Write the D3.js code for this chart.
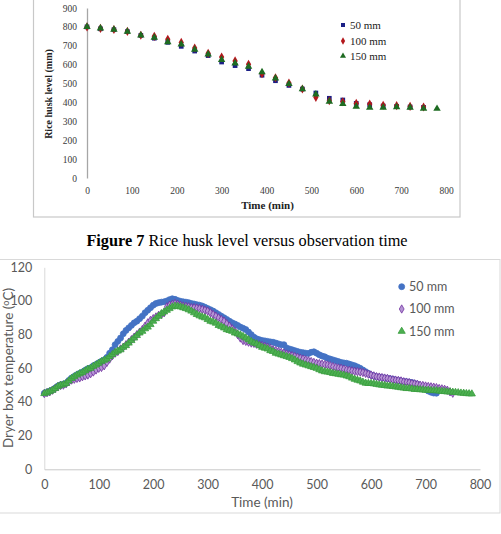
<!DOCTYPE html>
<html><head><meta charset="utf-8">
<script src="https://cdn.jsdelivr.net/npm/d3@7/dist/d3.min.js"></script>
<style>body{margin:0;background:#fff;} svg{display:block;}</style>
</head><body>
<svg id="c" width="501" height="534"></svg>
<script>
// ---------- Figure 7 (top, partially visible) ----------
const topSeriesNames = ["50 mm", "100 mm", "150 mm"];
const topTime = [0,30,60,90,120,150,180,210,240,270,300,330,360,390,420,450,480,510,540,570,600,630,660,690,720,750,780];
const top50  = [800,790,785,775,755,740,718,697,672,648,614,595,579,544,515,490,471,450,422,413,395,388,381,379,376,374];
const top100 = [800,792,786,776,756,750,734,718,688,660,640,620,602,552,531,503,471,427,409,404,395,392,385,383,379,376];
const top150 = [800,792,786,775,755,743,720,708,680,655,626,607,590,561,528,498,471,443,405,392,378,373,373,376,373,368,367];
const topYTicks = [0,100,200,300,400,500,600,700,800,900];
const topXTicks = [0,100,200,300,400,500,600,700,800];

// ---------- Dryer box temperature (bottom) ----------
const bottomSeriesNames = ["50 mm", "100 mm", "150 mm"];
const sampleStepMin = 5; // observation every 5 min
const temp50 = [45.2,45.8,46.5,47.2,48.3,49.5,50.2,50.5,51.2,52.8,54.2,55.2,56.2,57.0,57.8,58.8,59.8,60.3,61.5,62.3,
 63.3,64.2,65.0,66.5,69.0,71.0,74.0,76.0,78.0,80.5,82.5,84.0,85.5,87.0,88.0,89.5,91.0,93.0,94.5,96.0,
 97.5,98.5,99.0,99.3,99.5,100.0,100.8,101.3,101.0,100.3,99.8,99.5,99.3,99.0,98.5,98.2,97.8,97.5,97.0,96.3,
 95.5,94.8,94.0,93.0,92.0,91.0,90.0,89.0,88.0,87.0,86.3,85.5,84.5,83.8,83.0,81.5,80.0,78.5,77.5,77.0,
 76.5,76.3,76.0,75.7,75.5,75.0,74.5,74.0,74.0,72.0,71.5,71.0,70.5,70.0,69.5,69.3,69.0,68.8,69.5,69.8,
 69.0,68.0,67.3,66.8,66.0,65.5,65.0,64.5,64.0,63.5,63.2,63.0,62.5,62.0,61.5,60.8,60.0,59.0,58.0,57.0,
 56.0,55.5,55.0,54.8,54.5,54.2,54.0,53.8,53.5,53.0,52.8,52.5,52.2,52.0,51.8,51.5,51.0,50.5,49.5,48.5,
 47.5,46.5,45.8,45.3,45.2];
const temp100 = [45.0,45.5,46.0,47.0,48.0,49.0,49.8,50.0,50.8,52.0,53.0,53.5,54.0,54.3,55.0,55.5,56.0,56.8,57.8,59.0,
 60.0,60.5,61.5,63.5,65.5,67.5,69.0,70.0,71.5,72.5,74.0,75.5,77.0,78.5,80.0,81.5,83.0,85.0,87.0,88.5,
 89.5,90.5,91.5,92.0,93.0,96.5,97.5,98.0,98.5,98.0,97.5,97.0,96.8,96.5,96.0,96.0,95.8,95.5,95.0,94.5,
 94.0,93.0,92.0,91.0,90.0,89.0,88.0,86.5,85.0,83.5,82.0,80.0,78.0,76.5,76.0,75.5,75.0,74.8,74.3,74.0,
 73.5,73.0,72.5,71.8,71.0,70.5,70.0,69.5,69.0,68.5,68.0,67.5,67.0,66.5,66.0,65.5,65.0,64.5,64.0,63.5,
 63.0,62.8,62.5,62.2,62.0,61.5,61.0,60.5,60.2,60.0,59.5,59.0,58.8,58.5,58.2,58.0,57.8,57.5,57.0,56.5,
 56.0,55.5,55.0,54.8,54.5,54.2,54.0,53.5,53.2,53.0,52.8,52.5,52.0,51.8,51.5,51.0,50.8,50.5,50.0,49.8,
 49.5,49.2,49.0,48.8,48.5,48.0,47.8,47.5,47.0,46.0,45.2];
const temp150 = [45.0,45.5,46.2,47.0,48.0,49.2,50.0,50.3,51.0,52.5,54.0,55.0,56.0,56.8,57.5,58.5,59.5,60.0,61.2,62.0,
 63.0,64.0,64.8,65.5,67.0,68.2,69.5,70.3,71.0,72.5,73.5,75.0,76.5,78.0,79.5,81.0,82.0,83.5,84.5,86.0,
 88.0,89.5,91.0,92.5,93.5,94.5,95.5,96.5,97.0,96.8,96.5,96.0,95.5,94.8,94.0,93.0,92.0,91.2,90.5,90.0,
 89.0,88.0,87.5,86.8,85.5,84.8,84.0,83.0,82.5,82.0,81.0,80.5,79.8,79.0,78.0,77.0,76.0,75.0,74.5,73.5,
 72.5,72.0,71.5,70.5,70.0,69.0,68.5,68.0,67.5,67.0,66.5,65.8,65.0,64.0,63.2,62.5,62.0,61.5,61.0,60.5,
 60.0,59.2,58.5,58.0,57.8,57.5,57.0,56.8,56.5,56.2,56.0,55.5,55.0,54.2,53.5,53.0,52.5,51.8,51.2,51.0,
 51.0,50.8,50.5,50.2,50.0,49.8,49.5,49.5,49.2,49.0,48.8,48.5,48.3,48.0,48.0,47.8,47.5,47.5,47.3,47.2,
 47.0,47.0,46.8,46.8,46.7,46.5,46.3,46.2,46.0,46.0,45.8,45.7,45.5,45.3,45.2,45.0,44.9,44.8];
const bottomYTicks = [0,20,40,60,80,100,120];
const bottomXTicks = [0,100,200,300,400,500,600,700,800];

const svg = d3.select("#c");

// ================= TOP CHART =================
const serif = "'Liberation Serif','Times New Roman',serif";
svg.append("rect").attr("x",33.5).attr("y",-20).attr("width",426.5).attr("height",237)
  .attr("fill","#fff").attr("stroke","#c8c8c8").attr("stroke-width",1.2);

const xT = d3.scaleLinear().domain([0,800]).range([87,446]);
const yT = d3.scaleLinear().domain([0,900]).range([178,8]);

const gyT = svg.append("g").attr("transform",`translate(${xT(0)},0)`)
  .call(d3.axisLeft(yT).tickValues(topYTicks).tickSize(0).tickPadding(10));
gyT.select(".domain").attr("stroke","#a6a6a6").attr("stroke-width",1.3);
gyT.selectAll("text").attr("font-family",serif).attr("font-size",9.5).attr("fill","#3a3a3a");

const gxT = svg.append("g").attr("transform",`translate(0,${yT(0)})`)
  .call(d3.axisBottom(xT).tickValues(topXTicks).tickSize(0).tickPadding(9));
gxT.select(".domain").remove();
gxT.selectAll("text").attr("font-family",serif).attr("font-size",9.5).attr("fill","#3a3a3a");

svg.append("text").attr("x",267.5).attr("y",209).attr("text-anchor","middle")
  .attr("font-family",serif).attr("font-weight","bold").attr("font-size",11).attr("fill","#222")
  .text("Time (min)");
svg.append("text").attr("transform","translate(52,94) rotate(-90)").attr("text-anchor","middle")
  .attr("font-family",serif).attr("font-weight","bold").attr("font-size",10).attr("fill","#222")
  .text("Rice husk level (mm)");

const topColors = ["#1b1f86","#b3171c","#1e6b22"];
const topSymbols = [d3.symbolSquare, d3.symbolDiamond, d3.symbolTriangle];
const topSizes = [22, 24, 24];
const topData = [top50, top100, top150];
topData.forEach((vals, si) => {
  svg.append("g").selectAll("path").data(vals).join("path")
    .attr("transform",(d,i)=>`translate(${xT(topTime[i])},${yT(d)})`)
    .attr("d", d3.symbol().type(topSymbols[si]).size(topSizes[si]))
    .attr("fill", topColors[si]);
});
// legend top
const topLegY = [25,41,56];
topSeriesNames.forEach((n,i)=>{
  svg.append("path").attr("transform",`translate(343,${topLegY[i]})`)
    .attr("d", d3.symbol().type(topSymbols[i]).size(16)).attr("fill",topColors[i]);
  svg.append("text").attr("x",350).attr("y",topLegY[i]).attr("dy","0.35em")
    .attr("font-family",serif).attr("font-size",11).attr("fill","#222").text(n);
});

// ================= CAPTION =================
const cap = svg.append("text").attr("x",247).attr("y",246).attr("text-anchor","middle")
  .attr("font-family",serif).attr("font-size",16.3).attr("fill","#000");
cap.append("tspan").attr("font-weight","bold").text("Figure 7");
cap.append("tspan").text(" Rice husk level versus observation time");

// ================= BOTTOM CHART =================
const sans = "Lato,'Open Sans',sans-serif";
svg.append("rect").attr("x",-1).attr("y",259.5).attr("width",501).attr("height",253.5)
  .attr("fill","#fff").attr("stroke","#d9d9d9").attr("stroke-width",1);

const xB = d3.scaleLinear().domain([0,800]).range([44.3,480]);
const yB = d3.scaleLinear().domain([0,120]).range([469.3,267.3]);

const gyB = svg.append("g").attr("transform",`translate(${xB(0)},0)`)
  .call(d3.axisLeft(yB).tickValues(bottomYTicks).tickSize(0).tickPadding(12));
gyB.select(".domain").attr("stroke","#d9d9d9");
gyB.selectAll("text").attr("font-family",sans).attr("font-size",12.5).attr("fill","#595959");

const gxB = svg.append("g").attr("transform",`translate(0,${yB(0)})`)
  .call(d3.axisBottom(xB).tickValues(bottomXTicks).tickSize(0).tickPadding(11));
gxB.select(".domain").attr("stroke","#c8c8c8");
gxB.selectAll("text").attr("font-family",sans).attr("font-size",12.5).attr("fill","#595959");

svg.append("text").attr("x",262).attr("y",507).attr("text-anchor","middle")
  .attr("font-family",sans).attr("font-size",13.5).attr("fill","#595959").text("Time (min)");
const yt = svg.append("text").attr("transform","translate(13,368) rotate(-90)").attr("text-anchor","middle")
  .attr("font-family",sans).attr("font-size",13.5).attr("fill","#595959");
yt.append("tspan").text("Dryer box temperature (");
yt.append("tspan").attr("font-size",9).attr("dy",-4).text("o");
yt.append("tspan").attr("dy",4).text("C)");

const bColors = [
  {fill:"#4472c4", stroke:"#4472c4"},
  {fill:"#b595d4", stroke:"#7030a0"},
  {fill:"#4caf50", stroke:"#3a9d3f"}
];
const bSymbols = [d3.symbolCircle, d3.symbolDiamond, d3.symbolTriangle];
const bSizes = [28, 20, 22];
const bData = [temp50, temp100, temp150];
bData.forEach((vals, si) => {
  svg.append("g").selectAll("path").data(vals).join("path")
    .attr("transform",(d,i)=>`translate(${xB(i*sampleStepMin)},${yB(d)})`)
    .attr("d", d3.symbol().type(bSymbols[si]).size(bSizes[si]))
    .attr("fill", bColors[si].fill).attr("stroke", bColors[si].stroke).attr("stroke-width",0.8);
});

const bLegY = [286.7,309,331.3];
bottomSeriesNames.forEach((n,i)=>{
  svg.append("path").attr("transform",`translate(401.7,${bLegY[i]})`)
    .attr("d", d3.symbol().type(bSymbols[i]).size(bSizes[i])).attr("fill",bColors[i].fill)
    .attr("stroke",bColors[i].stroke).attr("stroke-width",0.8);
  svg.append("text").attr("x",409).attr("y",bLegY[i]).attr("dy","0.35em")
    .attr("font-family",sans).attr("font-size",12.5).attr("fill","#595959").text(n);
});
</script>
</body></html>
